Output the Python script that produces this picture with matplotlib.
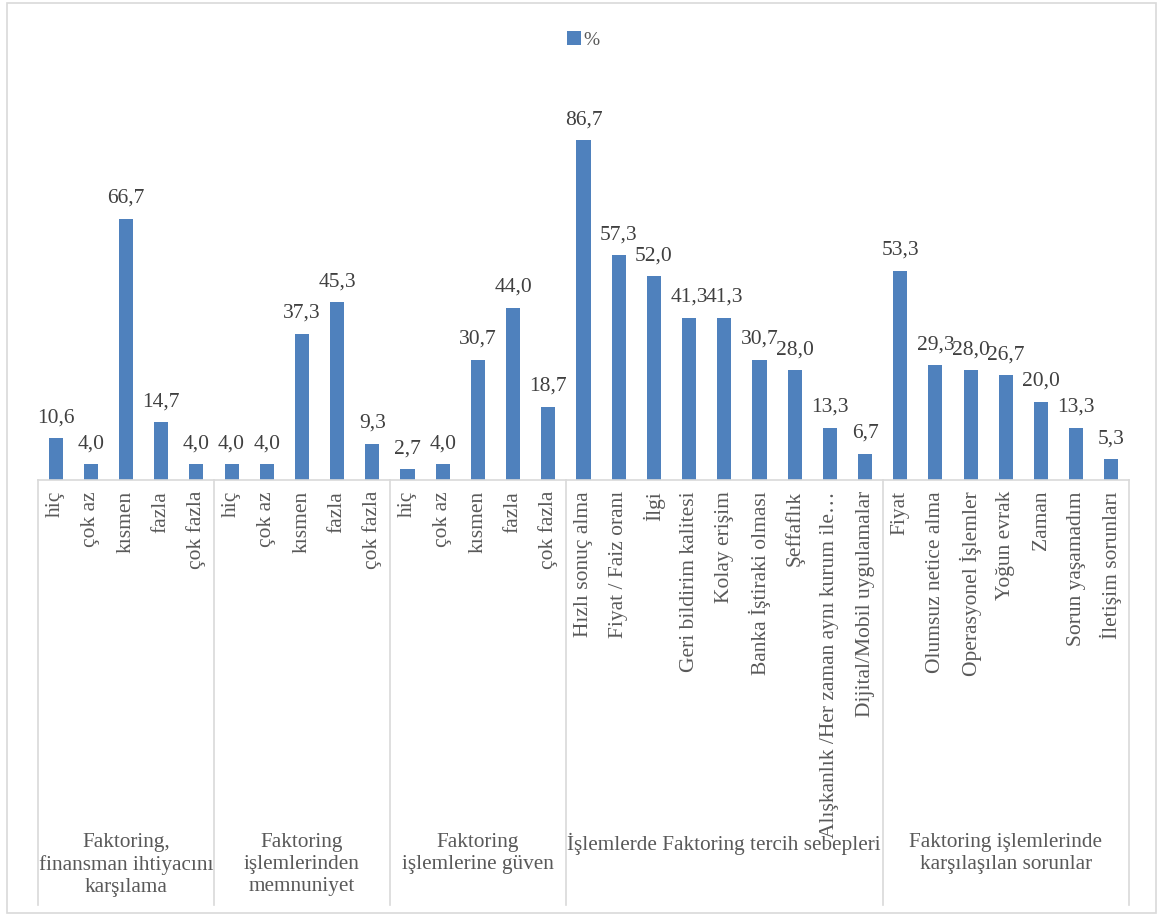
import matplotlib.pyplot as plt
from matplotlib.patches import Rectangle

plt.rcParams['font.family'] = ['Liberation Serif', 'DejaVu Serif']

groups = [
    "Faktoring,\nfinansman ihtiyacını\nkarşılama",
    "Faktoring\nişlemlerinden\nmemnuniyet",
    "Faktoring\nişlemlerine güven",
    "İşlemlerde Faktoring tercih sebepleri",
    "Faktoring işlemlerinde\nkarşılaşılan sorunlar",
]
categories = [
    ["hiç", "çok az", "kısmen", "fazla", "çok fazla"],
    ["hiç", "çok az", "kısmen", "fazla", "çok fazla"],
    ["hiç", "çok az", "kısmen", "fazla", "çok fazla"],
    ["Hızlı sonuç alma", "Fiyat / Faiz oranı", "İlgi", "Geri bildirim kalitesi",
     "Kolay erişim", "Banka İştiraki olması", "Şeffaflık",
     "Alışkanlık /Her zaman aynı kurum ile…", "Dijital/Mobil uygulamalar"],
    ["Fiyat", "Olumsuz netice alma", "Operasyonel İşlemler", "Yoğun evrak",
     "Zaman", "Sorun yaşamadım", "İletişim sorunları"],
]
values = [
    [10.6, 4.0, 66.7, 14.7, 4.0],
    [4.0, 4.0, 37.3, 45.3, 9.3],
    [2.7, 4.0, 30.7, 44.0, 18.7],
    [86.7, 57.3, 52.0, 41.3, 41.3, 30.7, 28.0, 13.3, 6.7],
    [53.3, 29.3, 28.0, 26.7, 20.0, 13.3, 5.3],
]

BLUE = "#4F81BD"
GRID = "#D9D9D9"
TXT = "#404040"
LBL = "#595959"

W, H = 1159, 918
fig = plt.figure(figsize=(W / 100, H / 100), dpi=100)

# chart area frame
fig.patches.append(Rectangle((7 / W, 1 - 913 / H), (1156 - 7) / W, (913 - 3) / H,
                             transform=fig.transFigure, fill=False,
                             edgecolor=GRID, linewidth=1.2))

x0, x1, ybase, ytop = 38, 1129, 480, 88
ax = fig.add_axes([x0 / W, 1 - ybase / H, (x1 - x0) / W, (ybase - ytop) / H])

flat_vals = [v for g in values for v in g]
flat_cats = [c for g in categories for c in g]
xs = list(range(len(flat_vals)))

bars = ax.bar(xs, flat_vals, width=0.4, color=BLUE, label="%")
for x, v in zip(xs, flat_vals):
    ax.text(x, v + 4.1, f"{v:.1f}".replace(".", ","), ha="center", va="baseline",
            fontsize=15.5, color=TXT)

ax.set_xlim(-0.5, len(flat_vals) - 0.5)
ax.set_ylim(0, 100)
for s in ["top", "left", "right"]:
    ax.spines[s].set_visible(False)
ax.spines["bottom"].set_color(GRID)
ax.spines["bottom"].set_linewidth(1.2)
ax.set_xticks([])
ax.set_yticks([])

tr = ax.get_xaxis_transform()
axh = ybase - ytop
sep_bottom = (ybase - 905) / axh
for x, c in zip(xs, flat_cats):
    ax.text(x, -11 / axh, c, transform=tr, rotation=90, ha="center", va="top",
            fontsize=15.5, color=LBL)

# group separators and group titles
start = 0
bounds = [-0.5]
for g, cats in zip(groups, categories):
    end = start + len(cats)
    bounds.append(end - 0.5)
    ax.text((start + end - 1) / 2, (ybase - 833) / axh, g, transform=tr,
            ha="center", va="top", fontsize=15.3, color=LBL, linespacing=1.22)
    start = end
for b in bounds:
    ax.plot([b, b], [0, sep_bottom], transform=tr, color=GRID, lw=1.2,
            clip_on=False)

ax.legend(loc="upper center", bbox_to_anchor=(0.5, 1 + 74 / axh), frameon=False,
          fontsize=14, handlelength=0.7, handleheight=0.7, handletextpad=0.15,
          labelcolor=LBL)

fig.savefig("out.png", dpi=100)
